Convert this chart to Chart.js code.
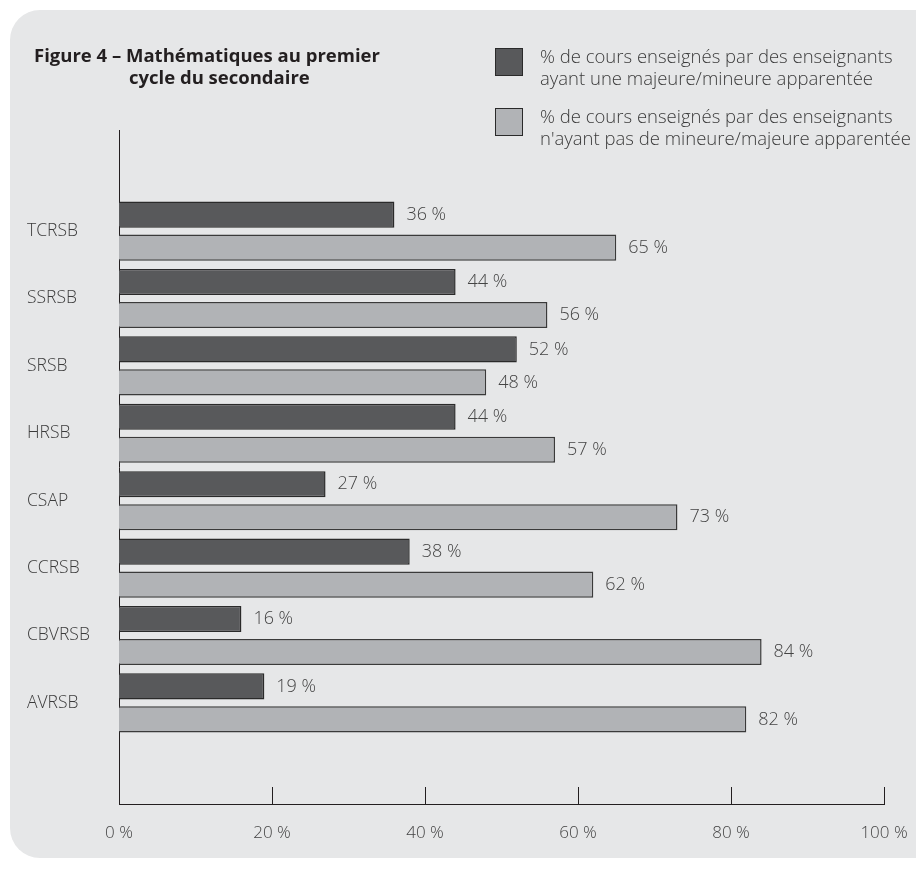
<!DOCTYPE html>
<html>
<head>
<meta charset="utf-8">
<script src="https://cdn.jsdelivr.net/npm/chart.js@4.4.1/dist/chart.umd.min.js"></script>
<style>
  html, body { margin: 0; padding: 0; background: #fff; overflow: hidden; }
  #page { position: relative; width: 916px; height: 869px; overflow: hidden; }
  #panel { position: absolute; left: 10px; top: 10px; width: 940px; height: 848px;
           background: #e6e7e8; border-radius: 30px 0 0 30px; }
  #chart { position: absolute; left: 0; top: 0; }
  .title { position: absolute; left: 34px; top: 44px; font-family: "Open Sans", sans-serif;
           font-weight: 700; font-size: 18.5px; line-height: 22px; color: #231f20; white-space: nowrap; }
  .legend-item { position: absolute; left: 495px; font-family: "Open Sans", sans-serif;
                 font-weight: 300; font-size: 18.5px; line-height: 22px; color: #3b3b3b; white-space: nowrap; }
  .legend-item .sw { position: absolute; left: 0; top: 3px; width: 28px; height: 28px;
                     box-sizing: border-box; border: 1.5px solid #2a2a2a; }
  .legend-item .tx { position: absolute; left: 45px; top: 0px; }
</style>
</head>
<body>
<div id="page">
  <div id="panel"></div>
  <canvas id="chart" width="916" height="869"></canvas>
  <div class="title">Figure 4 – Mathématiques au premier<br><span style="padding-left:95px">cycle du secondaire</span></div>
  <div class="legend-item" style="top:45px"><div class="sw" style="background:#58595b"></div><div class="tx">% de cours enseignés par des enseignants<br>ayant une majeure/mineure apparentée</div></div>
  <div class="legend-item" style="top:105px"><div class="sw" style="background:#b1b3b6"></div><div class="tx">% de cours enseignés par des enseignants<br>n'ayant pas de mineure/majeure apparentée</div></div>
</div>
<script>
const categories = ["TCRSB", "SSRSB", "SRSB", "HRSB", "CSAP", "CCRSB", "CBVRSB", "AVRSB"];
const withMajor = [36, 44, 52, 44, 27, 38, 16, 19];
const withoutMajor = [65, 56, 48, 57, 73, 62, 84, 82];
const xTicks = [0, 20, 40, 60, 80, 100];

const darkColor = '#58595b';
const lightColor = '#b1b3b6';
const textFont = '"Open Sans", sans-serif';

// one empty slot above and below the categories, like the original
const labels = [''].concat(categories, ['']);
const pad = arr => [null].concat(arr, [null]);

const valueLabels = {
    id: 'valueLabels',
    afterDatasetsDraw(chart) {
        const ctx = chart.ctx;
        ctx.save();
        ctx.font = '300 18px ' + textFont;
        ctx.fillStyle = '#444';
        ctx.textBaseline = 'middle';
        chart.data.datasets.forEach((ds, i) => {
            chart.getDatasetMeta(i).data.forEach((bar, j) => {
                if (ds.data[j] == null) return;
                ctx.fillText(ds.data[j] + ' %', bar.x + 12, bar.y);
            });
        });
        ctx.restore();
    }
};

// tick marks on the x axis point up into the plot
const upTicks = {
    id: 'upTicks',
    afterDraw(chart) {
        const ctx = chart.ctx;
        const x = chart.scales.x;
        const bottom = chart.chartArea.bottom;
        ctx.save();
        ctx.strokeStyle = '#231f20';
        ctx.lineWidth = 1;
        xTicks.forEach(v => {
            const px = Math.round(x.getPixelForValue(v)) + 0.5;
            ctx.beginPath();
            ctx.moveTo(px, bottom);
            ctx.lineTo(px, bottom - 17);
            ctx.stroke();
        });
        ctx.restore();
    }
};

new Chart(document.getElementById('chart'), {
    type: 'bar',
    data: {
        labels: labels,
        datasets: [
            {
                data: pad(withMajor),
                backgroundColor: darkColor,
                borderColor: '#2a2a2a',
                borderWidth: 1.5,
                borderSkipped: 'start',
                categoryPercentage: 0.98,
                barPercentage: 0.79
            },
            {
                data: pad(withoutMajor),
                backgroundColor: lightColor,
                borderColor: '#3a3a3a',
                borderWidth: 1.5,
                borderSkipped: 'start',
                categoryPercentage: 0.98,
                barPercentage: 0.79
            }
        ]
    },
    options: {
        indexAxis: 'y',
        responsive: false,
        animation: false,
        layout: { padding: { left: 27, top: 130, right: 32, bottom: 0 } },
        plugins: {
            legend: { display: false },
            tooltip: { enabled: false }
        },
        scales: {
            x: {
                min: 0,
                max: 100,
                afterBuildTicks: scale => { scale.ticks = xTicks.map(v => ({ value: v })); },
                afterFit: scale => {
                    scale.height = 65;
                    scale.paddingLeft = 0;
                    scale.paddingRight = 0;
                },
                grid: { display: false, drawTicks: false },
                border: { display: true, color: '#231f20', width: 1 },
                ticks: {
                    padding: 19,
                    maxRotation: 0,
                    color: '#444',
                    font: { family: textFont, size: 17, weight: '300' },
                    callback: v => v + ' %'
                }
            },
            y: {
                afterFit: scale => { scale.width = 92; },
                grid: { display: false, drawTicks: false },
                border: { display: true, color: '#231f20', width: 1 },
                ticks: {
                    crossAlign: 'far',
                    color: '#3b3b3b',
                    autoSkip: false,
                    font: { family: textFont, size: 17.5, weight: '300' }
                }
            }
        }
    },
    plugins: [valueLabels, upTicks]
});
</script>
</body>
</html>
